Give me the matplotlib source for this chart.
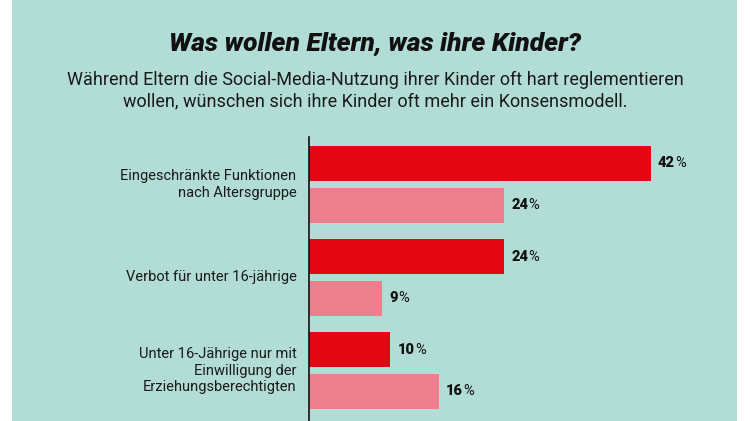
import matplotlib
matplotlib.use("Agg")
import matplotlib.pyplot as plt
import numpy as np

# data
categories = ["Eingeschränkte Funktionen\nnach Altersgruppe",
              "Verbot für unter 16-jährige",
              "Unter 16-Jährige nur mit\nEinwilligung der\nErziehungsberechtigten"]
eltern = [42, 24, 10]
kinder = [24, 9, 16]

title = "Was wollen Eltern, was ihre Kinder?"
subtitle = ("Während Eltern die Social-Media-Nutzung ihrer Kinder oft hart reglementieren\n"
            "wollen, wünschen sich ihre Kinder oft mehr ein Konsensmodell.")

bg = "#b2ddd7"
red = "#e30613"
pink = "#ee808d"

plt.rcParams['font.family'] = ['Roboto', 'DejaVu Sans']

W, H = 750, 421
fig = plt.figure(figsize=(W / 100, H / 100), dpi=100)
fig.patch.set_facecolor("white")
# teal panel
fig.patches.append(plt.Rectangle((12 / W, 0), (737 - 12) / W, 1, transform=fig.transFigure,
                                 facecolor=bg, edgecolor="none", zorder=-5))

fig.text(375 / W, 1 - 44 / H, title, ha="center", va="center", fontsize=19,
         fontweight="black", fontstyle="italic", color="#111111")
fig.text(375 / W, 1 - 91 / H, subtitle, ha="center", va="center", fontsize=13,
         color="#1a1a1a", linespacing=1.25)

# axes: left edge at x=309px, from y=137px to the bottom
ax = fig.add_axes([309 / W, 0, (737 - 309) / W, (H - 137) / H])
ax.set_facecolor("none")
px_per_pct = 8.14
ax.set_xlim(0, (737 - 309) / px_per_pct)
ax.set_ylim(2.54, -0.507)

y = np.arange(len(categories))
off = 0.223
h = 0.376
ax.barh(y - off, eltern, height=h, color=red)
ax.barh(y + off, kinder, height=h, color=pink)

for vals, yy in ((eltern, y - off), (kinder, y + off)):
    for v, yv in zip(vals, yy):
        t = ax.annotate(f"{v}", (v, yv), xytext=(5, 0), textcoords="offset points",
                        ha="left", va="center", fontsize=10.5, fontweight="black",
                        color="#111111")
        ax.annotate("%", xy=(1, 0), xycoords=t, xytext=(0.3, 0), textcoords="offset points",
                    ha="left", va="bottom", fontsize=10.5, color="#111111")

ax.set_yticks(y)
ax.set_yticklabels(categories, fontsize=10.5, color="#1a1a1a", linespacing=1.25,
                   va="center")
ax.tick_params(axis="y", length=0, pad=9)
ax.set_xticks([])
for s in ("top", "right", "bottom"):
    ax.spines[s].set_visible(False)
ax.spines["left"].set_linewidth(1.2)
ax.spines["left"].set_color("#111111")

fig.savefig("out.png", dpi=100, facecolor=fig.get_facecolor())
